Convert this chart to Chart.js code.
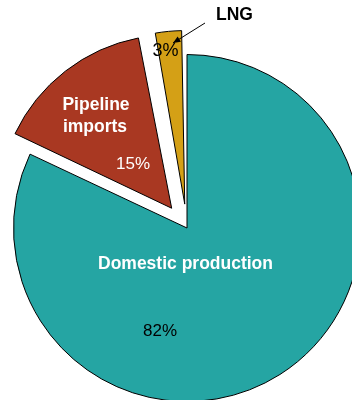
<!DOCTYPE html>
<html>
<head>
<meta charset="utf-8">
<script src="https://cdn.jsdelivr.net/npm/chart.js@4.4.1/dist/chart.umd.min.js"></script>
<style>
  html, body { margin: 0; padding: 0; background: #ffffff; overflow: hidden; }
  body { width: 352px; height: 400px; position: relative; }
  #wrap { position: absolute; left: -37px; top: 4px; width: 448px; height: 448px; }
</style>
</head>
<body>
<div id="wrap"><canvas id="gasChart"></canvas></div>
<script>
const categories = ['Domestic production', 'Pipeline imports', 'LNG']
const shares = [82, 15, 3]
const shareLabels = ['82%', '15%', '3%']
const sliceColors = ['#25a5a3', '#a93822', '#d4a016']
const sliceOffsets = [0, 100, 96]

// chart.js grows the radius of offset slices a bit, take that back out
const evenRadius = {
  id: 'evenRadius',
  afterDatasetsUpdate(chart) {
    chart.getDatasetMeta(0).data.forEach((arc, i) => {
      const off = sliceOffsets[i] / 4
      const fix = 1 - Math.sin(Math.min(Math.PI, arc.circumference))
      arc.outerRadius -= off * fix
    })
  }
}

// text labels placed around the pie centre
const sliceText = {
  id: 'sliceText',
  afterDraw(chart) {
    const ctx = chart.ctx
    const c = chart.getDatasetMeta(0).data[0]
    const x0 = c.x, y0 = c.y
    ctx.save()
    ctx.textAlign = 'center'
    ctx.textBaseline = 'middle'

    ctx.font = 'bold 17.5px "Liberation Sans", Arial, sans-serif'
    ctx.fillStyle = '#ffffff'
    ctx.fillText(categories[0], x0 - 1.5, y0 + 36)
    ctx.fillText('Pipeline', x0 - 91, y0 - 123)
    ctx.fillText('imports', x0 - 92, y0 - 101)
    ctx.fillStyle = '#000000'
    ctx.fillText(categories[2], x0 + 47.5, y0 - 213)

    ctx.font = '17px "Liberation Sans", Arial, sans-serif'
    ctx.fillStyle = '#000000'
    ctx.fillText(shareLabels[0], x0 - 27, y0 + 103)
    ctx.fillStyle = '#ffffff'
    ctx.fillText(shareLabels[1], x0 - 54, y0 - 64)
    ctx.font = '18px "Liberation Sans", Arial, sans-serif'
    ctx.fillStyle = '#000000'
    ctx.fillText(shareLabels[2], x0 - 21.5, y0 - 177)

    // arrow from LNG to its slice
    const ax = x0 + 18, ay = y0 - 205
    const bx = x0 - 14, by = y0 - 185
    ctx.strokeStyle = '#000000'
    ctx.lineWidth = 1
    ctx.beginPath()
    ctx.moveTo(ax, ay)
    ctx.lineTo(bx, by)
    ctx.stroke()
    const ang = Math.atan2(by - ay, bx - ax)
    ctx.fillStyle = '#000000'
    ctx.beginPath()
    ctx.moveTo(bx, by)
    ctx.lineTo(bx - 8 * Math.cos(ang - 0.4), by - 8 * Math.sin(ang - 0.4))
    ctx.lineTo(bx - 8 * Math.cos(ang + 0.4), by - 8 * Math.sin(ang + 0.4))
    ctx.closePath()
    ctx.fill()
    ctx.restore()
  }
}

const ctx = document.getElementById('gasChart').getContext('2d')
new Chart(ctx, {
  type: 'pie',
  data: {
    labels: categories,
    datasets: [{
      data: shares,
      backgroundColor: sliceColors,
      borderColor: '#000000',
      borderWidth: 1,
      offset: sliceOffsets
    }]
  },
  options: {
    responsive: true,
    maintainAspectRatio: false,
    animation: false,
    layout: { padding: 0 },
    plugins: {
      legend: { display: false },
      tooltip: { enabled: false }
    }
  },
  plugins: [evenRadius, sliceText]
})
</script>
</body>
</html>
